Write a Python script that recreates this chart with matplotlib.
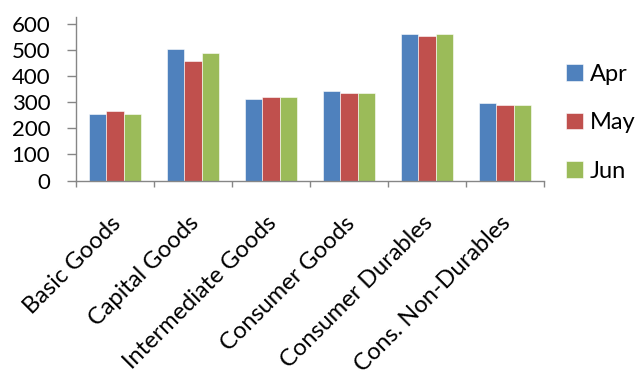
import numpy as np
import matplotlib.pyplot as plt
from matplotlib.transforms import ScaledTranslation

categories = ["Basic Goods", "Capital Goods", "Intermediate Goods",
              "Consumer Goods", "Consumer Durables", "Cons. Non-Durables"]
months = ["Apr", "May", "Jun"]
apr = [256, 505, 311, 343, 560, 295]
may = [265, 458, 319, 334, 552, 288]
jun = [256, 490, 319, 334, 560, 288]
colors = ["#4F81BD", "#C0504D", "#9BBB59"]

plt.rcParams["font.family"] = ["Lato", "DejaVu Sans"]

W, H = 637, 376
fig = plt.figure(figsize=(W / 100, H / 100), dpi=100)
ax = fig.add_axes([76 / W, 1 - 180.5 / H, (544 - 76) / W, (180.5 - 17) / H])

x = np.arange(len(categories))
w = 0.218
for i, (vals, name, c) in enumerate(zip([apr, may, jun], months, colors)):
    ax.bar(x + (i - 1) * w, vals, width=w, color=c, label=name,
           edgecolor="white", linewidth=0.4)

axis_grey = "#868686"
ax.set_xlim(-0.5, len(categories) - 0.5)
ax.set_ylim(0, 626)
ax.set_yticks(range(0, 601, 100))
ax.tick_params(axis="y", labelsize=16, length=6.5, pad=12, color=axis_grey, width=1)

# category labels: 45 degrees, top-right corner pinned just below each slot
ax.set_xticks(x)
ax.set_xticklabels(categories, rotation=45, ha="right", va="top",
                   rotation_mode="anchor", fontsize=17)
ax.tick_params(axis="x", length=0, pad=23)
shift = ScaledTranslation(-5 / 100, 0, fig.dpi_scale_trans)
for lab in ax.get_xticklabels():
    lab.set_transform(lab.get_transform() + shift)

# tick marks sit on the category boundaries
ax.set_xticks(np.arange(-0.5, len(categories)), minor=True)
ax.tick_params(axis="x", which="minor", length=4, color=axis_grey, width=1)

for s in ["top", "right"]:
    ax.spines[s].set_visible(False)
for s in ["left", "bottom"]:
    ax.spines[s].set_color(axis_grey)
    ax.spines[s].set_linewidth(1)

fig.legend(loc="upper left", bbox_to_anchor=(566 / W, 1 - 64 / H), frameon=False,
           fontsize=17, handlelength=0.7, handleheight=0.7, borderpad=0,
           borderaxespad=0, handletextpad=0.3, labelspacing=1.16)

fig.savefig("out.png", dpi=100)
